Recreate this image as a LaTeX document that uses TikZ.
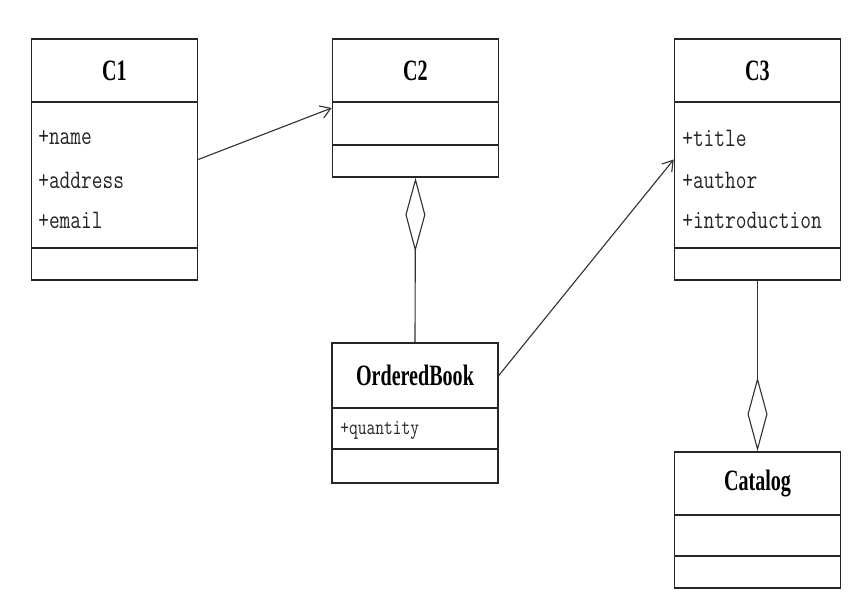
\documentclass[tikz,border=0pt]{standalone}
\usepackage{fontspec}
\usetikzlibrary{arrows.meta}
\newfontfamily\namefont[FakeStretch=0.68]{Liberation Serif}
\newfontfamily\attrfont[FakeStretch=0.78]{Latin Modern Mono}
\begin{document}
\begin{tikzpicture}[
  classbox/.style={draw=black!85, line width=1.1pt, inner sep=0pt, minimum width=4.15cm},
  classhead/.style={draw=black!85, line width=1.1pt, inner sep=0pt, minimum width=4.15cm, anchor=north,
    font=\namefont\bfseries\fontsize{21}{24}\selectfont},
  attr/.style={anchor=west, inner sep=0pt, text=black!85, font=\attrfont\fontsize{19}{21}\selectfont},
  assoc/.style={draw=black!80, line width=0.8pt, -{Straight Barb[length=2.5mm,width=3.2mm]}},
  aggr/.style={draw=black!80, line width=0.8pt, -{Diamond[open,length=1.85cm,width=0.5cm]}}
]
\useasboundingbox (0,0) rectangle (21.475,14.95);

% Class C1
\node[classbox, minimum height=6.025cm] (c1) at (2.8625, 10.9625) {};
\node[classhead, minimum height=1.575cm] (c1name) at (c1.north) {C1};
\draw[line width=1.1pt, draw=black!85] (c1.west |- 0,8.75) -- (c1.east |- 0,8.75);
\node[attr] (c1a1) at (0.95, 11.5) {+name};
\node[attr] (c1a2) at (0.95, 10.45) {+address};
\node[attr] (c1a3) at (0.95, 9.45) {+email};

% Class C2
\node[classbox, minimum height=3.45cm] (c2) at (10.3875, 12.25) {};
\node[classhead, minimum height=1.575cm] (c2name) at (c2.north) {C2};
\draw[line width=1.1pt, draw=black!85] (c2.west |- 0,11.325) -- (c2.east |- 0,11.325);

% Class OrderedBook
\node[classbox, minimum height=3.5cm] (ob) at (10.375, 4.625) {};
\node[classhead, minimum height=1.625cm] (obname) at (ob.north) {OrderedBook};
\draw[line width=1.1pt, draw=black!85] (ob.west |- 0,3.725) -- (ob.east |- 0,3.725);
\node[attr, font=\attrfont\fontsize{15.5}{17}\selectfont] (oba1) at (8.5, 4.2) {+quantity};

% Class C3
\node[classbox, minimum height=6.025cm] (c3) at (18.9375, 10.9625) {};
\node[classhead, minimum height=1.575cm] (c3name) at (c3.north) {C3};
\draw[line width=1.1pt, draw=black!85] (c3.west |- 0,8.75) -- (c3.east |- 0,8.75);
\node[attr] (c3a1) at (17.05, 11.5) {+title};
\node[attr] (c3a2) at (17.05, 10.45) {+author};
\node[attr] (c3a3) at (17.05, 9.45) {+introduction};

% Class Catalog
\node[classbox, minimum height=3.4cm] (cat) at (18.9375, 1.95) {};
\node[classhead, minimum height=1.575cm] (catname) at (cat.north) {Catalog};
\draw[line width=1.1pt, draw=black!85] (cat.west |- 0,1.05) -- (cat.east |- 0,1.05);

% Relations
\draw[assoc] (c1.east) -- (c2.west);
\draw[assoc] (obname.east) -- (c3.west);
\draw[aggr] (ob.north) -- (c2.south);
\draw[aggr] (c3.south) -- (cat.north);
\end{tikzpicture}
\end{document}
